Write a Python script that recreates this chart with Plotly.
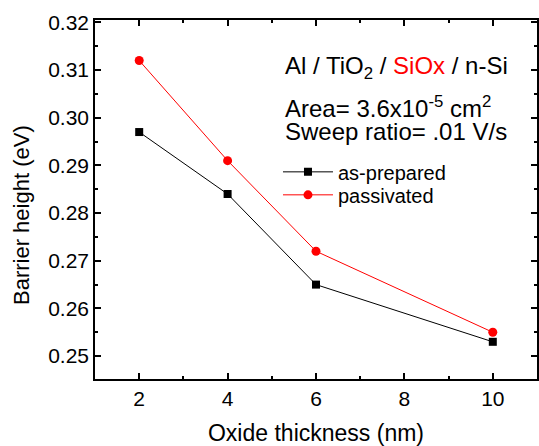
import plotly.graph_objects as go

thickness = [2, 4, 6, 10]
as_prepared = [0.297, 0.284, 0.265, 0.253]
passivated = [0.312, 0.291, 0.272, 0.255]
x_ticks = [2, 4, 6, 8, 10]
y_ticks = [0.25, 0.26, 0.27, 0.28, 0.29, 0.30, 0.31, 0.32]

FONT = "Liberation Sans, Arial, sans-serif"

fig = go.Figure()
fig.add_trace(go.Scatter(x=thickness, y=as_prepared, mode="lines+markers", name="as-prepared",
                         line=dict(color="black", width=1), legend="legend",
                         marker=dict(symbol="square", size=8, color="black")))
fig.add_trace(go.Scatter(x=thickness, y=passivated, mode="lines+markers", name="passivated",
                         line=dict(color="red", width=1), legend="legend2",
                         marker=dict(symbol="circle", size=9, color="red")))

axis_common = dict(showline=True, linecolor="black", linewidth=1.5, mirror="ticks",
                   ticks="inside", ticklen=6, tickwidth=1.5, tickcolor="black",
                   showgrid=False, zeroline=False, automargin=False,
                   tickfont=dict(family=FONT, size=21, color="black"))

fig.update_xaxes(range=[1, 11], tickvals=x_ticks, ticktext=[str(v) for v in x_ticks],
                 minor=dict(dtick=1, ticks="inside", ticklen=3, tickwidth=1.5, tickcolor="black"),
                 title=dict(text="Oxide thickness (nm)", font=dict(family=FONT, size=23, color="black"), standoff=16),
                 **axis_common)
fig.update_yaxes(range=[0.2452, 0.3205], tickvals=y_ticks, ticktext=[f"{v:.2f}" for v in y_ticks],
                 minor=dict(dtick=0.005, ticks="inside", ticklen=3, tickwidth=1.5, tickcolor="black"),
                 **axis_common)

# y-axis title (placed as rotated text, offset like the reference)
fig.add_annotation(x=-0.165, y=0.457, xref="paper", yref="paper", xanchor="center", yanchor="middle",
                   textangle=-90, showarrow=False, font=dict(family=FONT, size=22, color="black"),
                   text="Barrier height (eV)")

ann_font = dict(family=FONT, size=24, color="black")
fig.add_annotation(x=0.425, y=0.869, xref="paper", yref="paper", xanchor="left", yanchor="middle",
                   showarrow=False, font=ann_font,
                   text="Al / TiO<sub>2</sub> / <span style='color:red'>SiOx</span> / n-Si")
fig.add_annotation(x=0.425, y=0.758, xref="paper", yref="paper", xanchor="left", yanchor="middle",
                   showarrow=False, font=ann_font,
                   text="Area= 3.6x10<sup>-5</sup> cm<sup>2</sup>")
fig.add_annotation(x=0.425, y=0.689, xref="paper", yref="paper", xanchor="left", yanchor="middle",
                   showarrow=False, font=ann_font,
                   text="Sweep ratio= .01 V/s")

leg_common = dict(xanchor="left", yanchor="middle", bgcolor="rgba(0,0,0,0)",
                  font=dict(family=FONT, size=20, color="black"), itemwidth=50)
fig.update_layout(width=539, height=446, margin=dict(l=95, r=2, t=20, b=67),
                  plot_bgcolor="white", paper_bgcolor="white", showlegend=True,
                  font=dict(family=FONT, color="black"),
                  legend=dict(x=0.414, y=0.577, **leg_common),
                  legend2=dict(x=0.414, y=0.513, **leg_common))

fig.write_html("out.html", config={"displayModeBar": False},
               post_script="document.body.style.margin='0';document.body.style.overflow='hidden';")
